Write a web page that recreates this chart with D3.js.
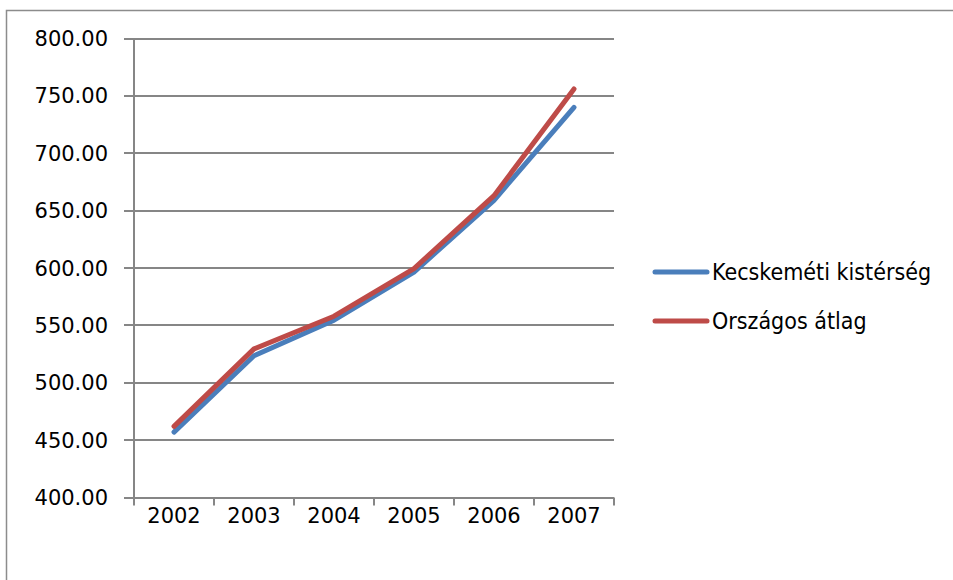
<!DOCTYPE html>
<html>
<head>
<meta charset="utf-8">
<script src="https://cdn.jsdelivr.net/npm/d3@7"></script>
<style>
  body { margin: 0; background: #fff; }
  text { font-family: "DejaVu Sans", sans-serif; fill: #000; }
</style>
</head>
<body>
<div id="plot"></div>
<script>
const width = 953;
const height = 580;

const years = ["2002", "2003", "2004", "2005", "2006", "2007"];
const kecskemet = [457, 523.5, 554.5, 596.5, 659, 740];
const orszagos = [462, 529.5, 558, 599.5, 663, 756];
const seriesNames = ["Kecskeméti kistérség", "Országos átlag"];
const yTicks = [400, 450, 500, 550, 600, 650, 700, 750, 800];

const colors = ["#4a7ebb", "#be4b48"];
const gridColor = "#868686";

const svg = d3.select("div#plot")
  .append("svg")
  .attr("width", width)
  .attr("height", height);

// outer chart border (cut off at right and bottom)
svg.append("rect")
  .attr("x", 6.5)
  .attr("y", 10.5)
  .attr("width", 1000)
  .attr("height", 1000)
  .attr("fill", "none")
  .attr("stroke", "#8c8c8c")
  .attr("stroke-width", 1.5);

const plotLeft = 134, plotRight = 614, plotTop = 38.5, plotBottom = 497.5;

const x = d3.scaleBand()
  .domain(years)
  .range([plotLeft, plotRight]);

const y = d3.scaleLinear()
  .domain([400, 800])
  .range([plotBottom, plotTop]);

// gridlines with tick stubs on the left
svg.append("g")
  .selectAll("line")
  .data(yTicks)
  .enter().append("line")
  .attr("x1", plotLeft - 10)
  .attr("x2", plotRight)
  .attr("y1", d => Math.round(y(d)))
  .attr("y2", d => Math.round(y(d)))
  .attr("stroke", gridColor)
  .attr("stroke-width", 2);

// y axis line
svg.append("line")
  .attr("x1", plotLeft).attr("x2", plotLeft)
  .attr("y1", plotTop).attr("y2", plotBottom)
  .attr("stroke", gridColor)
  .attr("stroke-width", 2);

// x tick marks
const xTickPos = years.map(d => x(d)).concat([plotRight]);
svg.append("g")
  .selectAll("line")
  .data(xTickPos)
  .enter().append("line")
  .attr("x1", d => d).attr("x2", d => d)
  .attr("y1", plotBottom).attr("y2", plotBottom + 8)
  .attr("stroke", gridColor)
  .attr("stroke-width", 2);

// y labels
svg.append("g")
  .selectAll("text")
  .data(yTicks)
  .enter().append("text")
  .attr("x", 108)
  .attr("y", d => y(d))
  .attr("dy", "0.36em")
  .attr("text-anchor", "end")
  .style("font-size", "21px")
  .text(d => d.toFixed(2));

// x labels
svg.append("g")
  .selectAll("text")
  .data(years)
  .enter().append("text")
  .attr("x", d => x(d) + x.bandwidth() / 2)
  .attr("y", 523)
  .attr("text-anchor", "middle")
  .style("font-size", "21px")
  .text(d => d);

const line = d3.line()
  .x((d, i) => x(years[i]) + x.bandwidth() / 2)
  .y(d => y(d));

[kecskemet, orszagos].forEach((data, i) => {
  svg.append("path")
    .datum(data)
    .attr("d", line)
    .attr("fill", "none")
    .attr("stroke", colors[i])
    .attr("stroke-width", 5)
    .attr("stroke-linejoin", "round")
    .attr("stroke-linecap", "round");
});

// legend
const legend = svg.selectAll(".legend")
  .data(seriesNames)
  .enter().append("g")
  .attr("class", "legend")
  .attr("transform", (d, i) => `translate(0, ${272 + i * 49})`);

legend.append("line")
  .attr("x1", 655)
  .attr("x2", 707)
  .attr("stroke", (d, i) => colors[i])
  .attr("stroke-width", 5)
  .attr("stroke-linecap", "round");

legend.append("text")
  .attr("x", 712)
  .attr("y", 0)
  .attr("dy", "0.36em")
  .style("font-family", "'Liberation Sans Narrow', 'DejaVu Sans Condensed', sans-serif")
  .style("font-size", "23px")
  .text(d => d);
</script>
</body>
</html>
